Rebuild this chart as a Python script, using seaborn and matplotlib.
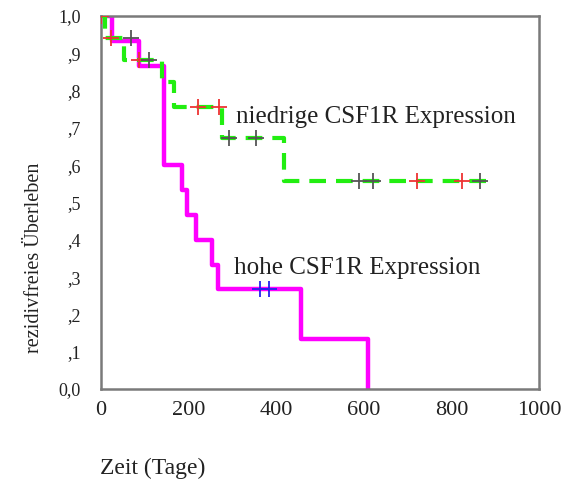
import matplotlib
matplotlib.use("Agg")
import matplotlib.pyplot as plt
import seaborn as sns
import pandas as pd

# high CSF1R expression (magenta)
hohe_t = [0, 26, 87, 144, 184, 197, 218, 254, 268, 457, 610]
hohe_s = [1.0, 0.933, 0.867, 0.60, 0.533, 0.467, 0.40, 0.333, 0.267, 0.133, 0.0]
hohe_cens_t = [364, 383]
hohe_cens_s = [0.267, 0.267]

# low CSF1R expression (green)
nied_t = [0, 10, 53, 140, 167, 277, 418, 888]
nied_s = [1.0, 0.941, 0.882, 0.824, 0.757, 0.674, 0.558, 0.558]
nied_cens_red_t = [0, 23, 87, 221, 269, 722, 825]
nied_cens_red_s = [1.0, 0.941, 0.882, 0.757, 0.757, 0.558, 0.558]
nied_cens_blk_t = [68, 110, 292, 353, 588, 622, 866]
nied_cens_blk_s = [0.941, 0.882, 0.674, 0.674, 0.558, 0.558, 0.558]

x_ticks = [0, 200, 400, 600, 800, 1000]
y_ticks = [0.0, 0.1, 0.2, 0.3, 0.4, 0.5, 0.6, 0.7, 0.8, 0.9, 1.0]
y_labels = ["0,0", ",1", ",2", ",3", ",4", ",5", ",6", ",7", ",8", ",9", "1,0"]

sns.set_style("white")
plt.rcParams['font.family'] = ['Liberation Serif', 'DejaVu Serif']

fig = plt.figure(figsize=(5.61, 4.88), dpi=100)
ax = fig.add_axes([101/561, 1-389/488, (539-101)/561, (389-16)/488])

sns.lineplot(x=hohe_t, y=hohe_s, ax=ax, drawstyle='steps-post', color='#ff00ff',
             linewidth=3.2, estimator=None, sort=False, zorder=2)
sns.lineplot(x=nied_t, y=nied_s, ax=ax, drawstyle='steps-post', color='#22ee11',
             linewidth=3.0, estimator=None, sort=False, zorder=3, dashes=False)
ax.lines[-1].set_dashes([4, 2.4])

sns.scatterplot(x=hohe_cens_t, y=hohe_cens_s, ax=ax, marker='+', s=130, color='#2222ee',
                linewidth=1.3, zorder=4)
sns.scatterplot(x=nied_cens_red_t, y=nied_cens_red_s, ax=ax, marker='+', s=130, color='#ee3333',
                linewidth=1.3, zorder=4)
sns.scatterplot(x=nied_cens_blk_t, y=nied_cens_blk_s, ax=ax, marker='+', s=130, color='#555555',
                linewidth=1.3, zorder=4)

ax.set_xlim(0, 1000)
ax.set_ylim(0, 1.0)
ax.set_xticks(x_ticks)
ax.set_xticklabels([str(v) for v in x_ticks], fontsize=16, color='#222222')
ax.set_yticks(y_ticks)
ax.set_yticklabels(y_labels, fontsize=13, color='#222222')
ax.tick_params(direction='inout', length=3, width=2.5, color='black')
ax.tick_params(axis='y', pad=13)
ax.tick_params(axis='x', pad=7)
for s in ax.spines.values():
    s.set_color('#7a7a7a')
    s.set_linewidth(1.8)
    s.set_visible(True)

ax.text(308, 0.729, "niedrige CSF1R Expression", fontsize=18, color='#222222', va='center')
ax.text(304, 0.324, "hohe CSF1R Expression", fontsize=18, color='#222222', va='center')

fig.text(100/561, 1-468/488, "Zeit (Tage)", fontsize=17, color='#222222', va='center', ha='left')
fig.text(35/561, 1-258/488, "rezidivfreies Überleben", fontsize=14.5, color='#222222',
         rotation=90, va='center', ha='center')

fig.savefig("out.png", dpi=100)
